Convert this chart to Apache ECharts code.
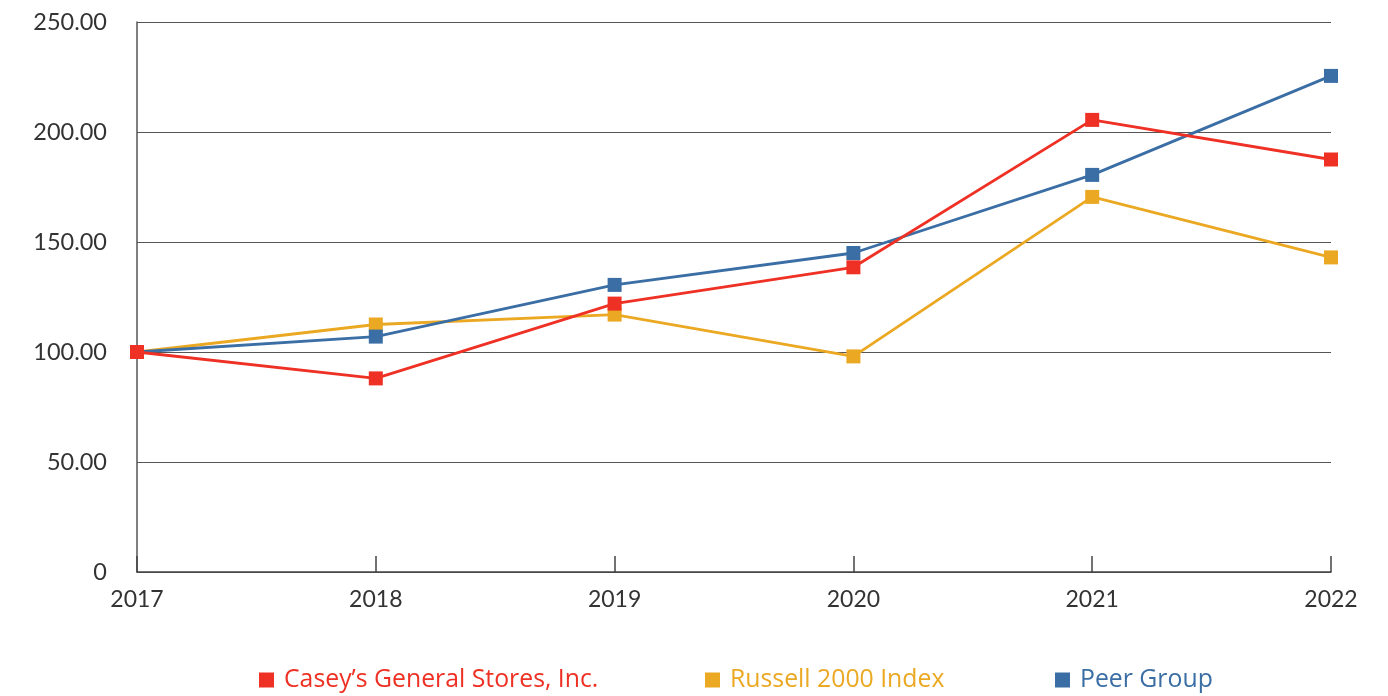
<!DOCTYPE html>
<html><head><meta charset="utf-8">
<script src="https://cdn.jsdelivr.net/npm/echarts@6/dist/echarts.min.js"></script>
<style>html,body{margin:0;padding:0;background:#fff}#c{width:1388px;height:696px}</style>
</head><body><div id="c"></div>
<script>
var years = ['2017','2018','2019','2020','2021','2022'];
var caseys = [100, 88, 122, 138.5, 205.5, 187.5];
var russell = [100, 112.5, 117, 98, 170.5, 143];
var peer = [100, 107, 130.5, 145, 180.5, 225.5];
var seriesNames = ["Casey’s General Stores, Inc.", 'Russell 2000 Index', 'Peer Group'];
var colors = ['#EE3124', '#EBA823', '#3A6EA5'];
var legendLefts = [259, 705, 1055];
var chart = echarts.init(document.getElementById('c'));
function s(name, data, color, z){
  return {name:name, type:'line', data:data, z:z, symbol:'rect', symbolSize:14,
    lineStyle:{color:color, width:2.8}, itemStyle:{color:color}, animation:false};
}
chart.setOption({
  animation:false,
  textStyle:{fontFamily:'Lato'},
  grid:{left:137, right:57, top:22, bottom:124},
  legend:seriesNames.map(function(n,i){
    return {top:666, left:legendLefts[i], padding:0, itemWidth:15, itemHeight:15, icon:'rect',
      data:[{name:n}], selectedMode:false,
      textStyle:{fontSize:24.8, fontFamily:'Open Sans', color:colors[i], padding:[0,0,0,5], lineHeight:28}};
  }),
  xAxis:{type:'category', data:years, boundaryGap:false,
    axisLine:{lineStyle:{color:'#444', width:1.5}},
    axisTick:{inside:true, length:16, lineStyle:{color:'#444', width:1.5}},
    axisLabel:{color:'#333', fontSize:23, margin:16}},
  yAxis:{type:'value', min:0, max:250, interval:50,
    axisLine:{show:true, lineStyle:{color:'#555', width:1.5}},
    axisTick:{show:false},
    splitLine:{lineStyle:{color:'#555', width:1.2}},
    axisLabel:{color:'#333', fontSize:23.5, margin:30,
      formatter:function(v){return v===0?'0':v.toFixed(2);}}},
  series:[s(seriesNames[0], caseys, colors[0], 4), s(seriesNames[1], russell, colors[1], 2), s(seriesNames[2], peer, colors[2], 3)]
});
</script></body></html>
